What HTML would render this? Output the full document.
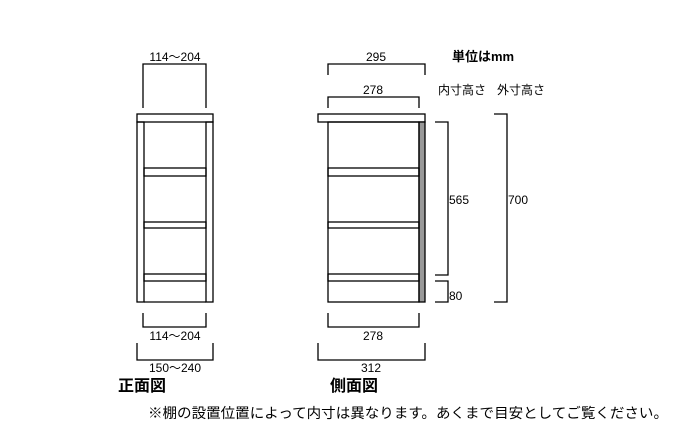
<!DOCTYPE html>
<html><head><meta charset="utf-8"><style>
body{margin:0;width:700px;height:429px;background:#fff;overflow:hidden}
svg text{font-family:"Liberation Sans","Noto Sans CJK JP",sans-serif;fill:#000}
</style></head><body>
<svg width="700" height="429" viewBox="0 0 700 429">
<g fill="none" stroke="#000" stroke-width="1.3">
<!-- front -->
<rect x="137" y="114" width="76" height="8"/>
<rect x="137" y="122" width="7" height="180"/>
<rect x="206" y="122" width="7" height="180"/>
<line x1="144" y1="302" x2="206" y2="302"/>
<rect x="144" y="168" width="62" height="8"/>
<rect x="144" y="222" width="62" height="6"/>
<rect x="144" y="274" width="62" height="7"/>
<polyline points="143,108 143,64 206,64 206,108"/>
<polyline points="143,313 143,327 206,327 206,313"/>
<polyline points="137,343 137,360 213,360 213,343"/>
<!-- side -->
<rect x="318" y="114" width="107" height="8"/>
<rect x="419" y="122" width="6" height="180" fill="#999"/>
<rect x="328" y="122" width="91" height="180"/>
<rect x="328" y="168" width="91" height="8"/>
<rect x="328" y="222" width="91" height="6"/>
<rect x="328" y="274" width="91" height="7"/>
<polyline points="328,75 328,64 425,64 425,75"/>
<polyline points="328,108 328,97 419,97 419,108"/>
<polyline points="435,122 448,122 448,275 435,275"/>
<polyline points="435,281 448,281 448,302 435,302"/>
<polyline points="494,114 507,114 507,302 494,302"/>
<polyline points="328,313 328,327 419,327 419,313"/>
<polyline points="318,343 318,360 425,360 425,343"/>
</g>
<g font-size="12">
<text x="175" y="61" text-anchor="middle">114～204</text>
<text x="175" y="340" text-anchor="middle">114～204</text>
<text x="175" y="372" text-anchor="middle">150～240</text>
<text x="376" y="61" text-anchor="middle">295</text>
<text x="373" y="94" text-anchor="middle">278</text>
<text x="373" y="340" text-anchor="middle">278</text>
<text x="371" y="372" text-anchor="middle">312</text>
<text x="449" y="204">565</text>
<text x="449" y="300">80</text>
<text x="508" y="204">700</text>
<text x="438" y="94">内寸高さ</text>
<text x="497" y="94">外寸高さ</text>
</g>
<text x="452" y="61" font-size="13" font-weight="bold">単位はmm</text>
<text x="118" y="391" font-size="16" font-weight="bold">正面図</text>
<text x="330" y="391" font-size="16" font-weight="bold">側面図</text>
<text x="148" y="418" font-size="14" textLength="520" lengthAdjust="spacingAndGlyphs">※棚の設置位置によって内寸は異なります。あくまで目安としてご覧ください。</text>
</svg>
</body></html>
